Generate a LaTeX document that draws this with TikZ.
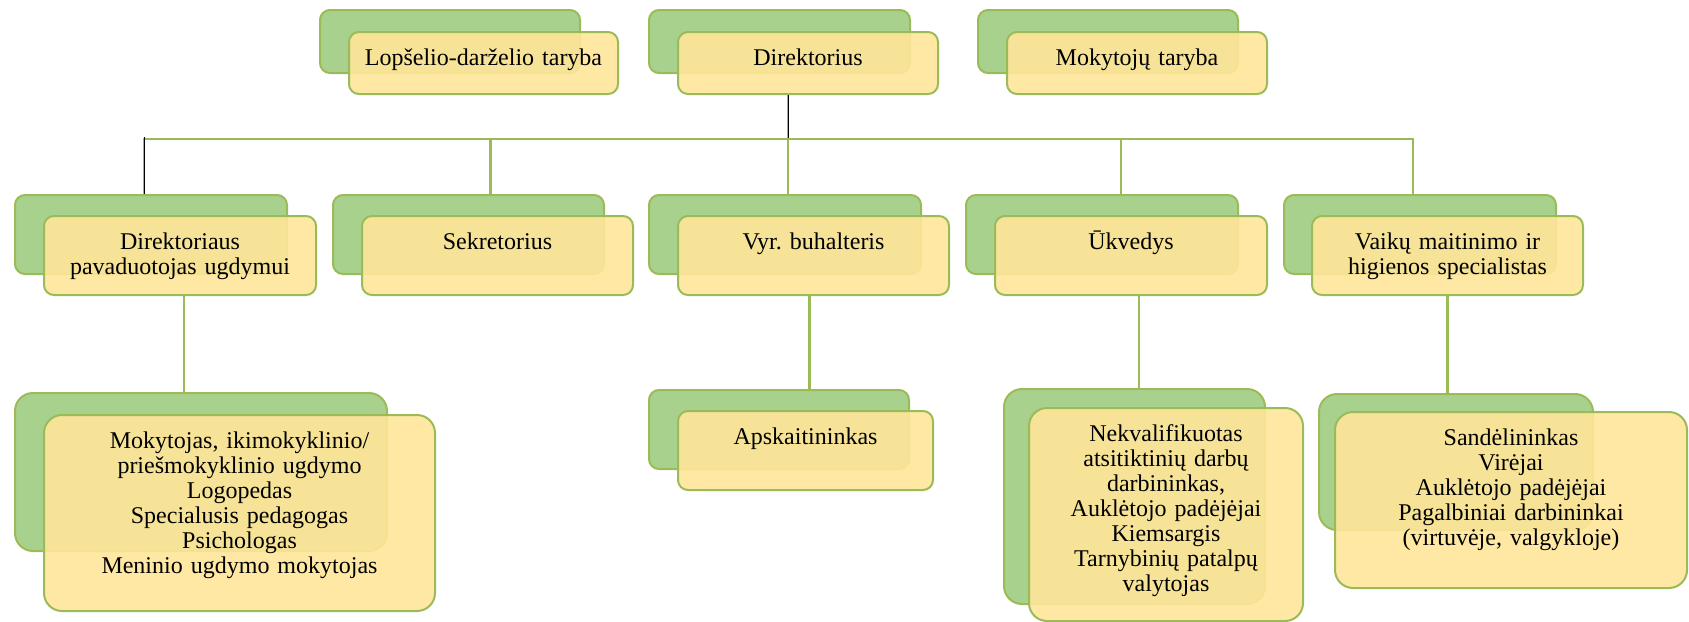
\documentclass[tikz,border=0pt]{standalone}
\usepackage{fontspec}
\setmainfont{Liberation Serif}
\frenchspacing
\definecolor{leaf}{HTML}{A9D18E}
\definecolor{leafline}{HTML}{9BBB59}
\definecolor{cream}{HTML}{FFE699}

\begin{document}
\begin{tikzpicture}[x=1pt, y=-1pt,
  greenbox/.style={draw=leafline, fill=leaf, line width=2pt, rounded corners=10pt,
    inner sep=0pt, anchor=north west},
  yellowbox/.style={draw=leafline, fill=cream, fill opacity=0.9, text opacity=1,
    line width=2pt, rounded corners=10pt, inner sep=0pt, anchor=north west,
    align=center, font=\fontsize{24pt}{25pt}\selectfont,
    text height=33pt, text depth=#1},
  link/.style={draw=leafline, line width=2.2pt}]

  \useasboundingbox (0,0) rectangle (1689,621);

  % top row
  \node[greenbox, minimum width=260pt, minimum height=63pt] (tarybabg) at (319,9) {};
  \node[yellowbox=29pt, text width=269pt] (taryba) at (348,31) {Lopšelio-darželio taryba};
  \node[greenbox, minimum width=261pt, minimum height=63pt] (dirbg) at (648,9) {};
  \node[yellowbox=29pt, text width=260pt] (dir) at (677,31) {Direktorius};
  \node[greenbox, minimum width=260pt, minimum height=63pt] (mokbg) at (977,9) {};
  \node[yellowbox=29pt, text width=260pt] (mok) at (1006,31) {Mokytojų taryba};

  % second row
  \node[greenbox, minimum width=272pt, minimum height=79pt] (pavbg) at (14,194) {};
  \node[yellowbox=46pt, text width=272pt] (pav) at (43,215) {Direktoriaus\\pavaduotojas ugdymui};
  \node[greenbox, minimum width=271pt, minimum height=79pt] (sekbg) at (332,194) {};
  \node[yellowbox=46pt, text width=271pt] (sek) at (361,215) {Sekretorius};
  \node[greenbox, minimum width=272pt, minimum height=79pt] (vyrbg) at (648,194) {};
  \node[yellowbox=46pt, text width=271pt] (vyr) at (677,215) {Vyr. buhalteris};
  \node[greenbox, minimum width=272pt, minimum height=79pt] (ukvbg) at (965,194) {};
  \node[yellowbox=46pt, text width=272pt] (ukv) at (994,215) {Ūkvedys};
  \node[greenbox, minimum width=272pt, minimum height=79pt] (vaibg) at (1283,194) {};
  \node[yellowbox=46pt, text width=271pt] (vai) at (1311,215) {Vaikų maitinimo ir\\higienos specialistas};

  % third row
  \node[greenbox, rounded corners=18pt, minimum width=372pt, minimum height=158pt] (mokytbg) at (14,392) {};
  \node[yellowbox=163pt, rounded corners=18pt, text width=391pt] (mokyt) at (43,414)
    {Mokytojas, ikimokyklinio/\\priešmokyklinio ugdymo\\Logopedas\\Specialusis pedagogas\\Psichologas\\Meninio ugdymo mokytojas};
  \node[greenbox, minimum width=260pt, minimum height=79pt] (apsbg) at (648,389) {};
  \node[yellowbox=46pt, text width=255pt] (aps) at (677,410) {Apskaitininkas};
  \node[greenbox, rounded corners=18pt, minimum width=261pt, minimum height=215pt] (nekvbg) at (1003,388) {};
  \node[yellowbox=180pt, rounded corners=18pt, text width=274pt] (nekv) at (1028,407)
    {Nekvalifikuotas\\atsitiktinių darbų\\darbininkas,\\Auklėtojo padėjėjai\\Kiemsargis\\Tarnybinių patalpų\\valytojas};
  \node[greenbox, rounded corners=18pt, minimum width=274pt, minimum height=136pt] (sandbg) at (1318,393) {};
  \node[yellowbox=143pt, rounded corners=18pt, text width=352pt] (sand) at (1334,411)
    {Sandėlininkas\\Virėjai\\Auklėtojo padėjėjai\\Pagalbiniai darbininkai\\(virtuvėje, valgykloje)};

  % links
  \draw[link] ([xshift=-20pt]dir.south) -- ++(0,44) coordinate (bus);
  \draw[black, line width=0.9pt] ([xshift=-20pt]dir.south) -- (bus);
  \foreach \b/\s in {pavbg/-7, sekbg/22, vyrbg/3, ukvbg/19, vaibg/-7}
    \draw[link] ([xshift=\s pt]\b.north) |- (bus);
  \draw[black, line width=0.9pt] ([xshift=-7pt]pavbg.north) -- ++(0,-57);

  \draw[link] ([xshift=4pt]pav.south) -- ([xshift=4pt]pav.south |- mokytbg.north);
  \draw[link] ([xshift=-4pt]vyr.south) -- ([xshift=-4pt]vyr.south |- apsbg.north);
  \draw[link] ([xshift=8pt]ukv.south) -- ([xshift=8pt]ukv.south |- nekvbg.north);
  \draw[link] (vai.south) -- (vai.south |- sandbg.north);
\end{tikzpicture}
\end{document}
